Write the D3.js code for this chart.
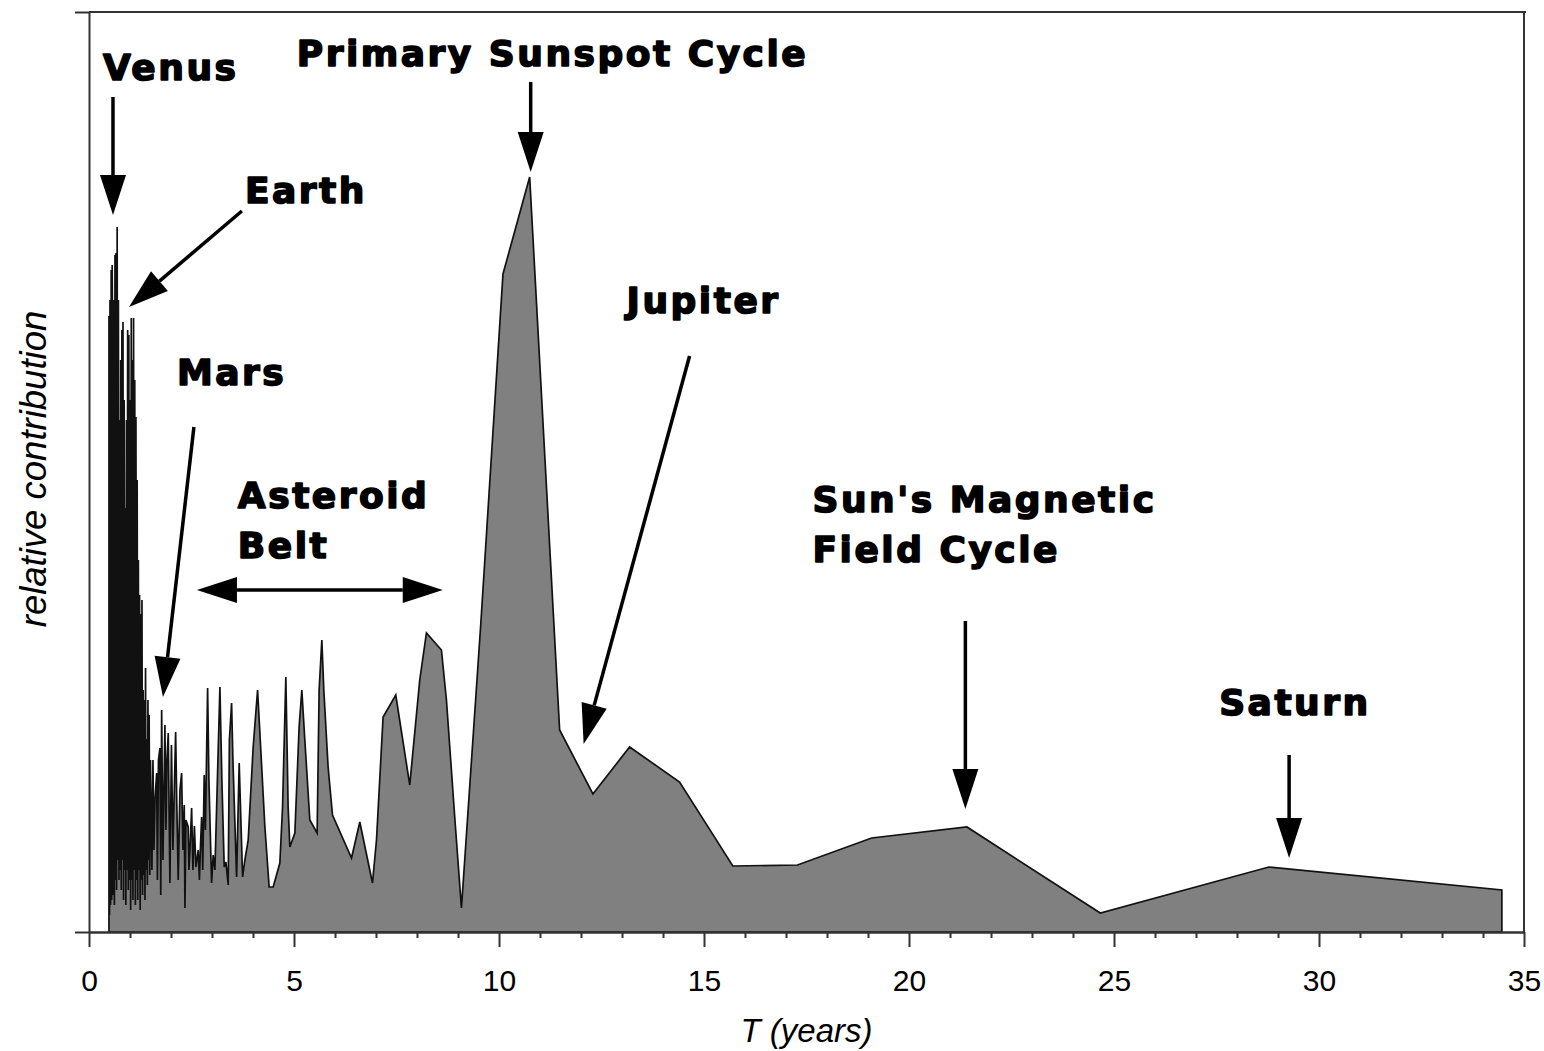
<!DOCTYPE html>
<html>
<head>
<meta charset="utf-8">
<script src="https://cdn.jsdelivr.net/npm/d3@7"></script>
<style>
body { margin:0; background:#fff; }
svg { display:block; }
.note { font-family:"DejaVu Sans", sans-serif; font-weight:bold; font-size:36px; letter-spacing:2.5px; fill:#000; stroke:#000; stroke-width:1.6px; stroke-linejoin:round; }
.tick text { font-family:"Liberation Sans", Arial, sans-serif; font-size:30px; fill:#000; }
.axisTitle { font-family:"Liberation Sans", Arial, sans-serif; font-style:italic; fill:#000; }
</style>
</head>
<body>
<svg id="chart" width="1544" height="1051"></svg>
<script>
const SIZES = {
    w: 1544,
    h: 1051,
    left: 89,
    right: 1524,
    top: 12,
    bottom: 932
};

// period T in years
const periodYears = [
    0.487, 0.500, 0.512, 0.526, 0.541, 0.553, 0.565, 0.580, 0.592, 0.604,
    0.619, 0.634, 0.646, 0.658, 0.673, 0.687, 0.702, 0.717, 0.731, 0.746,
    0.758, 0.773, 0.787, 0.802, 0.816, 0.829, 0.843, 0.858, 0.873, 0.885,
    0.899, 0.914, 0.929, 0.943, 0.958, 0.972, 0.987, 1.002, 1.016, 1.031,
    1.046, 1.060, 1.072, 1.087, 1.102, 1.116, 1.131, 1.145, 1.160, 1.175,
    1.189, 1.204, 1.219, 1.233, 1.248, 1.262, 1.277, 1.292, 1.306, 1.321,
    1.336, 1.350, 1.365, 1.379, 1.394, 1.409, 1.423, 1.438, 1.453, 1.467,
    1.482, 1.499, 1.516,
    1.535, 1.560, 1.584, 1.609, 1.650, 1.669, 1.694, 1.730, 1.750, 1.772,
    1.804, 1.852, 1.877, 1.901, 1.933, 1.974, 2.011, 2.047, 2.113, 2.140,
    2.176, 2.218, 2.259, 2.291, 2.323, 2.340, 2.364, 2.420, 2.437, 2.462,
    2.503, 2.535, 2.571, 2.608, 2.664, 2.693, 2.717, 2.747, 2.774, 2.810,
    2.839, 2.893, 2.925, 2.990, 3.029, 3.071, 3.193, 3.241, 3.298, 3.339,
    3.395, 3.424, 3.478, 3.510, 3.600, 3.663, 3.746, 3.802, 3.883, 4.004,
    4.112, 4.168, 4.290, 4.394, 4.492, 4.655, 4.721, 4.801, 4.857, 4.899,
    5.021, 5.125, 5.191, 5.264, 5.386, 5.564, 5.613, 5.679, 5.727, 5.832,
    5.939, 6.403, 6.605, 6.914, 7.012, 7.173, 7.482, 7.823, 8.067, 8.230,
    8.596, 8.718, 8.920, 9.084, 9.554, 10.097, 10.748, 11.479, 12.291, 13.185,
    14.404, 15.703, 17.280, 19.088, 21.413, 24.665, 28.776, 34.460
];

// relative contribution (arbitrary units, axis top = 92)
const contribution = [
    61.6, 1.7, 63.2, 2.7, 66.2, 3.2, 66.7, 56.2, 3.7, 63.2,
    2.7, 67.7, 5.2, 67.9, 4.2, 70.5, 7.2, 63.2, 5.2, 51.2,
    6.2, 57.2, 4.2, 60.2, 7.2, 61.0, 3.2, 53.2, 6.2, 42.4,
    2.7, 51.2, 6.2, 60.2, 4.2, 59.7, 5.2, 53.2, 2.2, 61.4,
    5.2, 57.2, 3.2, 61.4, 6.2, 55.2, 2.7, 51.5, 5.2, 45.2,
    3.2, 37.2, 6.2, 33.7, 2.2, 31.8, 5.2, 33.2, 3.7, 24.2,
    5.7, 23.2, 3.2, 26.4, 6.2, 19.3, 4.7, 23.2, 7.2, 21.7,
    5.7, 17.2, 12.5,
    6.2, 17.2, 8.2, 13.2, 15.9, 5.2, 17.2, 18.4, 3.7, 22.2,
    7.2, 20.7, 10.2, 17.2, 19.9, 4.9, 18.7, 8.2, 20.0, 13.2,
    5.2, 14.2, 15.9, 8.2, 12.7, 2.4, 11.2, 10.5, 6.2, 8.2,
    12.4, 6.2, 10.6, 6.5, 8.2, 5.2, 8.4, 11.5, 6.2, 15.7,
    10.2, 24.4, 15.2, 4.9, 7.7, 6.2, 24.5, 15.2, 6.5, 7.0,
    4.7, 19.2, 22.9, 17.2, 5.5, 16.9, 5.5, 7.2, 9.2, 18.5,
    24.2, 19.9, 10.5, 4.5, 4.5, 6.9, 12.5, 25.5, 12.5, 8.5,
    9.9, 20.5, 24.2, 19.2, 11.2, 9.9, 24.2, 29.2, 24.2, 16.5,
    11.7, 7.4, 11.0, 4.9, 9.2, 21.5, 23.7, 14.7, 25.2, 29.9,
    28.2, 23.2, 11.5, 2.4, 30.7, 65.8, 75.5, 20.2, 13.8, 18.5,
    15.0, 6.6, 6.7, 9.4, 10.5, 1.9, 6.5, 4.2
];

const xTickValues = [0, 5, 10, 15, 20, 25, 30, 35];
const xMinorTicks = [1, 2, 3, 4, 6, 7, 8, 9, 11, 12, 13, 14, 16, 17, 18, 19,
                     21, 22, 23, 24, 26, 27, 28, 29, 31, 32, 33, 34];

// annotation labels and where they sit (data coordinates: T, contribution)
const noteText = [["Venus"], ["Primary Sunspot Cycle"], ["Earth"], ["Jupiter"], ["Mars"],
                  ["Asteroid", "Belt"], ["Sun's Magnetic", "Field Cycle"], ["Saturn"]];
const noteAt = [[0.341, 85.2], [5.069, 86.6], [3.802, 72.9], [13.112, 61.9], [2.145, 54.7],
                [3.631, 42.4], [17.646, 42.0], [27.565, 21.7]];

// arrows: start -> tip
const arrowFrom = [[0.585, 83.5], [3.729, 72.1], [10.773, 85.0], [2.559, 50.5],
                   [14.648, 57.6], [2.632, 34.2], [21.375, 31.1], [29.271, 17.7]];
const arrowTo = [[0.585, 71.7], [0.975, 62.5], [10.773, 76.0], [1.804, 23.5],
                 [12.064, 18.8], [8.628, 34.2], [21.375, 12.3], [29.271, 7.4]];
const arrowBoth = [false, false, false, false, false, true, false, false];

const svg = d3.select("#chart");
const x = d3.scaleLinear().domain([0, 35]).range([SIZES.left, SIZES.right]);
const y = d3.scaleLinear().domain([0, 92]).range([SIZES.bottom, SIZES.top]);

function drawArea() {
    const pts = periodYears.map((t, i) => ({t: t, v: contribution[i]}));
    const area = d3.area()
        .x(d => x(d.t))
        .y0(y(0))
        .y1(d => y(d.v));
    svg.append("path")
        .datum(pts)
        .attr("d", area)
        .attr("fill", "#808080")
        .attr("stroke", "#111")
        .attr("stroke-width", 1.7)
        .attr("stroke-linejoin", "miter");
}

function drawAxes() {
    const axisColor = "#333";
    // frame: top and right
    svg.append("line").attr("x1", SIZES.left).attr("x2", SIZES.right + 2)
        .attr("y1", SIZES.top).attr("y2", SIZES.top)
        .attr("stroke", axisColor).attr("stroke-width", 2);
    svg.append("line").attr("x1", SIZES.right).attr("x2", SIZES.right)
        .attr("y1", SIZES.top).attr("y2", SIZES.bottom)
        .attr("stroke", axisColor).attr("stroke-width", 2);

    const yAxis = d3.axisLeft(y).tickValues([0, 92]).tickSize(14).tickSizeOuter(0).tickFormat("");
    const gy = svg.append("g").attr("transform", "translate(" + SIZES.left + ",0)").call(yAxis);

    const xMinor = d3.axisBottom(x).tickValues(xMinorTicks).tickSize(6).tickSizeOuter(0).tickFormat("");
    const gxm = svg.append("g").attr("transform", "translate(0," + SIZES.bottom + ")").call(xMinor);

    const xAxis = d3.axisBottom(x).tickValues(xTickValues).tickSize(15).tickSizeOuter(0).tickPadding(23);
    const gx = svg.append("g").attr("transform", "translate(0," + SIZES.bottom + ")").call(xAxis);

    [gy, gxm, gx].forEach(g => {
        g.select(".domain").attr("stroke", axisColor).attr("stroke-width", 2);
        g.selectAll(".tick line").attr("stroke", axisColor).attr("stroke-width", 2);
    });
    gx.attr("font-family", null).attr("font-size", null);

    svg.append("text").attr("class", "axisTitle")
        .attr("x", (SIZES.left + SIZES.right) / 2).attr("y", 1042)
        .attr("text-anchor", "middle").attr("font-size", 33)
        .text("T (years)");
    svg.append("text").attr("class", "axisTitle")
        .attr("transform", "translate(46,469) rotate(-90)")
        .attr("text-anchor", "middle").attr("font-size", 36.5)
        .text("relative contribution");
}

function arrowHead(tip, from, len, wid) {
    const dx = tip[0] - from[0], dy = tip[1] - from[1];
    const d = Math.sqrt(dx * dx + dy * dy);
    const ux = dx / d, uy = dy / d;
    const bx = tip[0] - ux * len, by = tip[1] - uy * len;
    const nx = -uy * wid / 2, ny = ux * wid / 2;
    return {
        base: [bx, by],
        poly: [[tip[0], tip[1]], [bx + nx, by + ny], [bx - nx, by - ny]]
    };
}

function drawArrows() {
    const g = svg.append("g");
    arrowFrom.forEach((f, i) => {
        const p0 = [x(f[0]), y(f[1])];
        const p1 = [x(arrowTo[i][0]), y(arrowTo[i][1])];
        const head = arrowHead(p1, p0, 40, 26);
        let start = p0;
        if (arrowBoth[i]) {
            const h2 = arrowHead(p0, p1, 40, 26);
            g.append("polygon").attr("points", h2.poly.map(p => p.join(",")).join(" ")).attr("fill", "#000");
            start = h2.base;
        }
        g.append("line")
            .attr("x1", start[0]).attr("y1", start[1])
            .attr("x2", head.base[0]).attr("y2", head.base[1])
            .attr("stroke", "#000").attr("stroke-width", 3.5);
        g.append("polygon").attr("points", head.poly.map(p => p.join(",")).join(" ")).attr("fill", "#000");
    });
}

function drawNotes() {
    noteText.forEach((lines, i) => {
        const t = svg.append("text").attr("class", "note")
            .attr("x", x(noteAt[i][0])).attr("y", y(noteAt[i][1]));
        lines.forEach((s, j) => {
            t.append("tspan").attr("x", x(noteAt[i][0])).attr("dy", j === 0 ? 0 : 50).text(s);
        });
    });
}

function start() {
    drawArea();
    drawAxes();
    drawArrows();
    drawNotes();
}
start();
</script>
</body>
</html>
